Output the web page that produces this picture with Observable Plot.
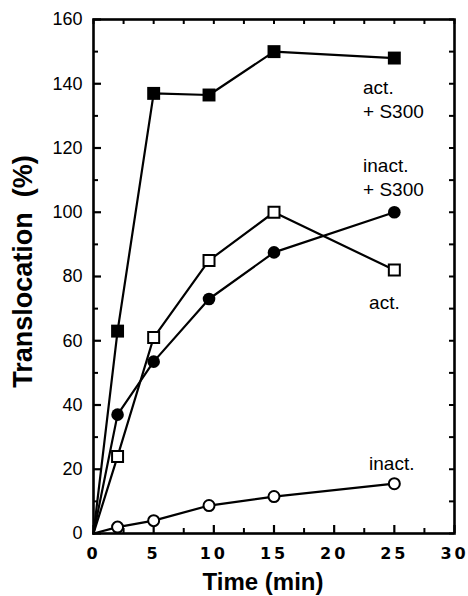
<!DOCTYPE html>
<html>
<head>
<meta charset="utf-8">
<script src="https://cdn.jsdelivr.net/npm/d3@7"></script>
<script src="https://cdn.jsdelivr.net/npm/@observablehq/plot@0.6"></script>
<style>
  html, body { margin: 0; padding: 0; background: #fff; }
  #chart svg { display: block; font-family: "Liberation Sans", Arial, sans-serif; }
  .xlab text { letter-spacing: 3px; }
</style>
</head>
<body>
<div id="chart"></div>
<script>
// ---- data ----
const time = [0, 2, 5, 9.6, 15, 25];
const actS300 = [0, 63, 137, 136.5, 150, 148];
const inactS300 = [0, 37, 53.5, 73, 87.5, 100];
const act = [0, 24, 61, 85, 100, 82];
const inact = [0, 2, 4, 8.7, 11.5, 15.5];

const xMajor = [0, 5, 10, 15, 20, 25, 30];
const xMinor = [2.5, 7.5, 12.5, 17.5, 22.5, 27.5];
const yMajor = [0, 20, 40, 60, 80, 100, 120, 140, 160];
const yMinor = [10, 30, 50, 70, 90, 110, 130, 150];

const labelText = ["act.\n+ S300", "inact.\n+ S300", "act.", "inact."];
const labelX = [22.4, 22.4, 22.9, 22.9];
const labelY = [135.4, 111.3, 72.3, 22.1];

// ---- build tables ----
const seriesDefs = [
  {name: "act. + S300", values: actS300, symbol: "square", filled: true},
  {name: "inact. + S300", values: inactS300, symbol: "circle", filled: true},
  {name: "act.", values: act, symbol: "square", filled: false},
  {name: "inact.", values: inact, symbol: "circle", filled: false}
];
const rows = seriesDefs.flatMap(s => time.map((t, i) => ({series: s.name, t, v: s.values[i], symbol: s.symbol, filled: s.filled})));
const markerRows = rows.filter(d => d.t > 0);
const labels = labelText.map((text, i) => ({text, x: labelX[i], y: labelY[i]}));

const W = 468, H = 596;
const mL = 93, mR = 14, mT = 19, mB = 63;
const fw = W - mL - mR, fh = H - mT - mB;
const major = 8, minor = 5;

const chart = Plot.plot({
  width: W,
  height: H,
  marginLeft: mL,
  marginRight: mR,
  marginTop: mT,
  marginBottom: mB,
  x: {domain: [0, 30]},
  y: {domain: [0, 160]},
  style: {fontFamily: "'Liberation Sans', Arial, sans-serif", color: "black"},
  marks: [
    // inward ticks
    Plot.tickY(yMajor, {y: d => d, insetRight: fw - major, strokeWidth: 2.2}),
    Plot.tickY(yMinor, {y: d => d, insetRight: fw - minor, strokeWidth: 2}),
    Plot.tickY(yMajor, {y: d => d, insetLeft: fw - minor, strokeWidth: 2}),
    Plot.tickY(yMinor, {y: d => d, insetLeft: fw - minor, strokeWidth: 2}),
    Plot.tickX(xMajor, {x: d => d, insetTop: fh - major, strokeWidth: 2.2}),
    Plot.tickX(xMinor, {x: d => d, insetTop: fh - minor, strokeWidth: 2}),
    Plot.tickX(xMajor, {x: d => d, insetBottom: fh - minor, strokeWidth: 2}),
    Plot.tickX(xMinor, {x: d => d, insetBottom: fh - minor, strokeWidth: 2}),
    Plot.frame({stroke: "black", strokeWidth: 2.6}),
    // tick labels
    Plot.axisY({ticks: yMajor, tickSize: 0, tickPadding: 11, fontSize: 18, tickFormat: d => String(d)}),
    Plot.axisX({ticks: xMajor, tickSize: 0, tickPadding: 14, fontSize: 16, fontWeight: "bold", fontFamily: "'DejaVu Sans', sans-serif", className: "xlab", tickFormat: d => String(d), label: null}),
    // axis titles
    Plot.text(["Time (min)"], {frameAnchor: "bottom", lineAnchor: "middle", textAnchor: "middle", dy: 49, dx: -11, fontSize: 24, fontWeight: "bold"}),
    Plot.text(["Translocation\u00A0\u00A0(%)"], {frameAnchor: "left", textAnchor: "middle", lineAnchor: "middle", rotate: -90, dx: -70, dy: -5, fontSize: 27, fontWeight: "bold"}),
    // data lines
    Plot.line(rows, {x: "t", y: "v", z: "series", stroke: "black", strokeWidth: 2.2}),
    // markers
    Plot.dot(markerRows.filter(d => d.symbol === "square" && d.filled), {x: "t", y: "v", symbol: "square", r: 7.3, fill: "black", stroke: "none"}),
    Plot.dot(markerRows.filter(d => d.symbol === "circle" && d.filled), {x: "t", y: "v", symbol: "circle", r: 6.3, fill: "black", stroke: "none"}),
    Plot.dot(markerRows.filter(d => d.symbol === "square" && !d.filled), {x: "t", y: "v", symbol: "square", r: 6.2, fill: "white", stroke: "black", strokeWidth: 2}),
    Plot.dot(markerRows.filter(d => d.symbol === "circle" && !d.filled), {x: "t", y: "v", symbol: "circle", r: 5.5, fill: "white", stroke: "black", strokeWidth: 2}),
    // series labels
    Plot.text(labels, {x: "x", y: "y", text: "text", textAnchor: "start", lineAnchor: "middle", lineHeight: 1.263, fontSize: 19})
  ]
});
document.getElementById("chart").appendChild(chart);
</script>
</body>
</html>
